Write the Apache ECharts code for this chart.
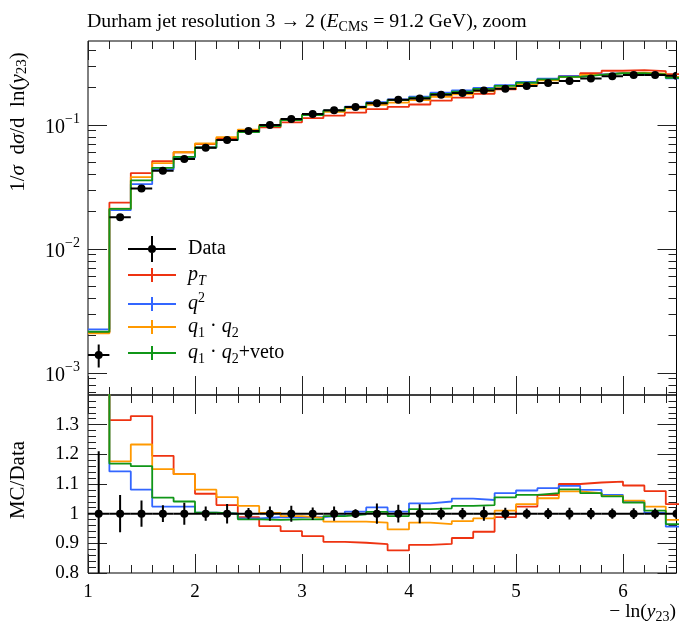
<!DOCTYPE html>
<html><head><meta charset="utf-8">
<script src="https://cdn.jsdelivr.net/npm/echarts@6/dist/echarts.min.js"></script>
<style>html,body{margin:0;padding:0;background:#fff}#c{width:700px;height:632px}</style>
</head><body><div id="c"></div>
<script>
// ---- data ----
const binEdges = [1.0,1.2,1.4,1.6,1.8,2.0,2.2,2.4,2.6,2.8,3.0,3.2,3.4,3.6,3.8,4.0,4.2,4.4,4.6,4.8,5.0,5.2,5.4,5.6,5.8,6.0,6.2,6.4,6.6];
const binCenters = [1.1,1.3,1.5,1.7,1.9,2.1,2.3,2.5,2.7,2.9,3.1,3.3,3.5,3.7,3.9,4.1,4.3,4.5,4.7,4.9,5.1,5.3,5.5,5.7,5.9,6.1,6.3,6.5];
const dataValues = [0.00140,0.0180,0.0308,0.0428,0.0532,0.0656,0.0757,0.0895,0.1000,0.1117,0.1227,0.1314,0.1397,0.1495,0.1600,0.1635,0.1750,0.1810,0.1900,0.1960,0.2060,0.2180,0.2260,0.2370,0.2470,0.2530,0.2530,0.2490];
const dataRelErr = [0.21,0.063,0.044,0.028,0.037,0.024,0.033,0.019,0.024,0.027,0.021,0.024,0.015,0.034,0.030,0.032,0.020,0.019,0.024,0.020,0.017,0.018,0.020,0.019,0.017,0.018,0.017,0.018];
const mcPT   = [0.00212,0.02367,0.04093,0.05115,0.06028,0.07000,0.07790,0.08843,0.09580,0.10511,0.11337,0.11892,0.12601,0.13410,0.14016,0.14633,0.15715,0.16616,0.17841,0.19365,0.21094,0.23173,0.24860,0.26189,0.27368,0.27704,0.27223,0.25697];
const mcQ2   = [0.00225,0.02056,0.03329,0.04383,0.05448,0.06580,0.07570,0.08807,0.09880,0.11036,0.12123,0.13061,0.14068,0.15264,0.16112,0.16922,0.18218,0.19023,0.19874,0.20952,0.22207,0.23675,0.24724,0.25596,0.26256,0.26337,0.25376,0.23804];
const mcQ1Q2 = [0.00209,0.02117,0.03798,0.04922,0.06028,0.07091,0.07994,0.09183,0.10030,0.11081,0.12098,0.12785,0.13593,0.14502,0.15152,0.15860,0.16888,0.17648,0.18696,0.19796,0.21259,0.22934,0.24295,0.25335,0.26182,0.26413,0.25907,0.24377];
const mcVeto = [0.00215,0.02104,0.03573,0.04511,0.05538,0.06580,0.07570,0.08780,0.09790,0.10958,0.12037,0.13035,0.13942,0.15040,0.15872,0.16595,0.17815,0.18571,0.19551,0.20678,0.21898,0.23304,0.24453,0.25335,0.26133,0.26236,0.25553,0.24029];

// ---- ticks ----
const xMajorTicks = [1,2,3,4,5,6];
const xMinorTicks = [1.2,1.4,1.6,1.8,2.2,2.4,2.6,2.8,3.2,3.4,3.6,3.8,4.2,4.4,4.6,4.8,5.2,5.4,5.6,5.8,6.2,6.4];
const yMainMajor = [0.001,0.01,0.1];
const yMainMinor = [0.0007,0.0008,0.0009,0.002,0.003,0.004,0.005,0.006,0.007,0.008,0.009,0.02,0.03,0.04,0.05,0.06,0.07,0.08,0.09,0.2,0.3,0.4];
const ratioMajor = [0.8,0.9,1.0,1.1,1.2,1.3];
const ratioMinor = [0.82,0.84,0.86,0.88,0.92,0.94,0.96,0.98,1.02,1.04,1.06,1.08,1.12,1.14,1.16,1.18,1.22,1.24,1.26,1.28,1.32,1.34,1.36,1.38];

const F = 'Liberation Serif';
const COL = {pT:'#EE3311', q2:'#3366FF', q1q2:'#FF9900', veto:'#109618'};
const TICK = '#222';
function mkRich(fs, lh){
  return {
    t:{fontFamily:F,fontSize:fs,color:'#000',lineHeight:lh},
    i:{fontFamily:F,fontSize:fs,fontStyle:'italic',color:'#000',lineHeight:lh},
    sub:{fontFamily:F,fontSize:Math.round(fs*0.72),color:'#000',lineHeight:Math.round(lh*0.45),verticalAlign:'bottom'},
    subi:{fontFamily:F,fontSize:Math.round(fs*0.72),fontStyle:'italic',color:'#000',lineHeight:Math.round(lh*0.45),verticalAlign:'bottom'},
    sup:{fontFamily:F,fontSize:Math.round(fs*0.72),color:'#000',lineHeight:Math.round(lh*0.45),verticalAlign:'top'}
  };
}
const richTitle = mkRich(19.8, 24);
const richLegend = mkRich(20, 26);
const richYTitle = mkRich(21, 24);
const richXTitle = mkRich(19.5, 24);

function steps(vals){ return binEdges.map((e,i)=>[e, vals[Math.min(i, vals.length-1)]]); }
function ratioSteps(vals){ return binEdges.map((e,i)=>{const k=Math.min(i, vals.length-1); return [e, vals[k]/dataValues[k]];}); }

function xAx(grid,pos,ticks,len,labels){
  return {type:'value',gridIndex:grid,position:pos,min:1,max:6.5,
    axisLine:{show:false},splitLine:{show:false},
    axisTick:{show:true,inside:true,length:len,customValues:ticks,lineStyle:{color:TICK,width:1}},
    axisLabel: labels ? {show:true,customValues:labels,margin:10,fontFamily:F,fontSize:19,color:'#000'} : {show:false}};
}
function yLog(pos,ticks,len,labels){
  return {type:'log',logBase:10,gridIndex:0,position:pos,min:6.646e-4,max:0.4756,
    axisLine:{show:false},splitLine:{show:false},minorTick:{show:false},
    axisTick:{show:true,inside:true,length:len,customValues:ticks,lineStyle:{color:TICK,width:1}},
    axisLabel: labels ? {show:true,customValues:labels,margin:8,
      formatter:v=>{const e=Math.round(Math.log10(v));return '{b|10}{s|'+(e<0?'\u2212':'')+Math.abs(e)+'}';},
      rich:{b:{fontFamily:F,fontSize:20,color:'#000',lineHeight:26,verticalAlign:'bottom'},s:{fontFamily:F,fontSize:14,color:'#000',lineHeight:14,verticalAlign:'top'}}} : {show:false}};
}
function yRat(pos,ticks,len,labels){
  return {type:'value',gridIndex:1,position:pos,min:0.8,max:1.4,
    axisLine:{show:false},splitLine:{show:false},
    axisTick:{show:true,inside:true,length:len,customValues:ticks,lineStyle:{color:TICK,width:1}},
    axisLabel: labels ? {show:true,customValues:labels,margin:9,fontFamily:F,fontSize:19,color:'#000'} : {show:false}};
}

function errRender(params, api){
  const x=api.value(0), y=api.value(1), lo=api.value(2), hi=api.value(3);
  const pL=api.coord([x-0.1,y]), pR=api.coord([x+0.1,y]);
  const pLo=api.coord([x,lo]), pHi=api.coord([x,hi]);
  const cs=params.coordSys;
  return {type:'group',clipPath:{type:'rect',shape:{x:cs.x,y:cs.y,width:cs.width,height:cs.height}},children:[
    {type:'line',shape:{x1:pL[0],y1:pL[1],x2:pR[0],y2:pR[1]},style:{stroke:'#000',lineWidth:2}},
    {type:'line',shape:{x1:pLo[0],y1:pLo[1],x2:pHi[0],y2:pHi[1]},style:{stroke:'#000',lineWidth:2}},
    {type:'circle',shape:{cx:pL[0]+(pR[0]-pL[0])/2,cy:pL[1],r:4},style:{fill:'#000'}}
  ]};
}

const mainErr = binCenters.map((c,i)=>[c, dataValues[i], dataValues[i]*(1-dataRelErr[i]), dataValues[i]*(1+dataRelErr[i])]);
const ratioErr = binCenters.map((c,i)=>[c, 1, 1-dataRelErr[i], 1+dataRelErr[i]]);

function mcLine(name,vals,col){
  return {name:name,type:'line',xAxisIndex:0,yAxisIndex:0,step:'end',data:steps(vals),showSymbol:false,symbol:'none',
    clip:true,color:col,lineStyle:{color:col,width:1.8},itemStyle:{color:col},silent:true,animation:false};
}
function ratioLine(name,vals,col){
  return {name:name+' ratio',type:'line',xAxisIndex:4,yAxisIndex:4,step:'end',data:ratioSteps(vals),showSymbol:false,symbol:'none',
    clip:true,color:col,lineStyle:{color:col,width:1.8},silent:true,animation:false};
}

const MCICON = 'path://M0,6H48V8H0Z M23,0H25V14H23Z';
const DATAICON = 'path://M0,12H48V14H0Z M23,0H25V26H23Z M24,9A4,4 0 1,1 23.99,9Z';

const chart = echarts.init(document.getElementById('c'), null, {renderer:'canvas'});
chart.setOption({
  animation:false,
  backgroundColor:'#fff',
  title:{left:87,top:10,padding:0,text:'Durham jet resolution 3 \u2192 2 ({i|E}{sub|CMS} = 91.2 GeV), zoom',
    textStyle:{fontFamily:F,fontSize:19.8,fontWeight:'normal',color:'#000',lineHeight:24,rich:richTitle}},
  grid:[
    {left:88,top:41,width:588.5,height:354,show:true,borderColor:'#000',borderWidth:1,backgroundColor:'transparent'},
    {left:88,top:395,width:588.5,height:178,show:true,borderColor:'#000',borderWidth:1,backgroundColor:'transparent'}
  ],
  xAxis:[
    xAx(0,'bottom',xMajorTicks,19,null), xAx(0,'bottom',xMinorTicks,8,null),
    xAx(0,'top',xMajorTicks,19,null), xAx(0,'top',xMinorTicks,8,null),
    xAx(1,'bottom',xMajorTicks,19,xMajorTicks), xAx(1,'bottom',xMinorTicks,8,null),
    xAx(1,'top',xMajorTicks,19,null), xAx(1,'top',xMinorTicks,8,null)
  ],
  yAxis:[
    yLog('left',yMainMajor,19,yMainMajor), yLog('left',yMainMinor,8,null),
    yLog('right',yMainMajor,19,null), yLog('right',yMainMinor,8,null),
    yRat('left',ratioMajor,19,ratioMajor), yRat('left',ratioMinor,8,null),
    yRat('right',ratioMajor,19,null), yRat('right',ratioMinor,8,null)
  ],
  legend:{left:128,top:236,padding:0,orient:'vertical',itemWidth:48,itemHeight:26,itemGap:3,selectedMode:false,
    textStyle:{fontFamily:F,fontSize:20,color:'#000',padding:[0,0,0,7],rich:richLegend},
    formatter:n=>({Data:'{t|Data}',pT:'{i|p}{subi|T}',q2:'{i|q}{sup|2}',q1q2:'{i|q}{sub|1}{t| \u00b7 }{i|q}{sub|2}',veto:'{i|q}{sub|1}{t| \u00b7 }{i|q}{sub|2}{t|+veto}'})[n],
    data:[
      {name:'Data',icon:DATAICON,itemStyle:{color:'#000'}},
      {name:'pT',icon:MCICON,itemStyle:{color:COL.pT}},
      {name:'q2',icon:MCICON,itemStyle:{color:COL.q2}},
      {name:'q1q2',icon:MCICON,itemStyle:{color:COL.q1q2}},
      {name:'veto',icon:MCICON,itemStyle:{color:COL.veto}}
    ]},
  graphic:[
    {type:'text',x:18,y:122,rotation:Math.PI/2,style:{text:'{t|1/}{i|\u03c3}{t|\u2002d}{i|\u03c3}{t|/d\u2002ln(}{i|y}{sub|23}{t|)}',rich:richYTitle,align:'center',verticalAlign:'middle',textAlign:'center',textVerticalAlign:'middle'}},
    {type:'text',x:18,y:480,rotation:Math.PI/2,style:{text:'{t|MC/Data}',rich:richYTitle,align:'center',verticalAlign:'middle',textAlign:'center',textVerticalAlign:'middle'}},
    {type:'text',x:676,y:612,style:{text:'{t|\u2212 ln(}{i|y}{sub|23}{t|)}',rich:richXTitle,align:'right',verticalAlign:'middle',textAlign:'right',textVerticalAlign:'middle'}}
  ],
  series:[
    mcLine('pT',mcPT,COL.pT), mcLine('q2',mcQ2,COL.q2), mcLine('q1q2',mcQ1Q2,COL.q1q2), mcLine('veto',mcVeto,COL.veto),
    {name:'Data',type:'custom',xAxisIndex:0,yAxisIndex:0,data:mainErr,renderItem:errRender,clip:true,itemStyle:{color:'#000'},color:'#000',silent:true,z:5},
    ratioLine('pT',mcPT,COL.pT), ratioLine('q2',mcQ2,COL.q2), ratioLine('q1q2',mcQ1Q2,COL.q1q2), ratioLine('veto',mcVeto,COL.veto),
    {name:'Data ratio',type:'custom',xAxisIndex:4,yAxisIndex:4,data:ratioErr,renderItem:errRender,clip:true,itemStyle:{color:'#000'},color:'#000',silent:true,z:5}
  ]
});
</script></body></html>
